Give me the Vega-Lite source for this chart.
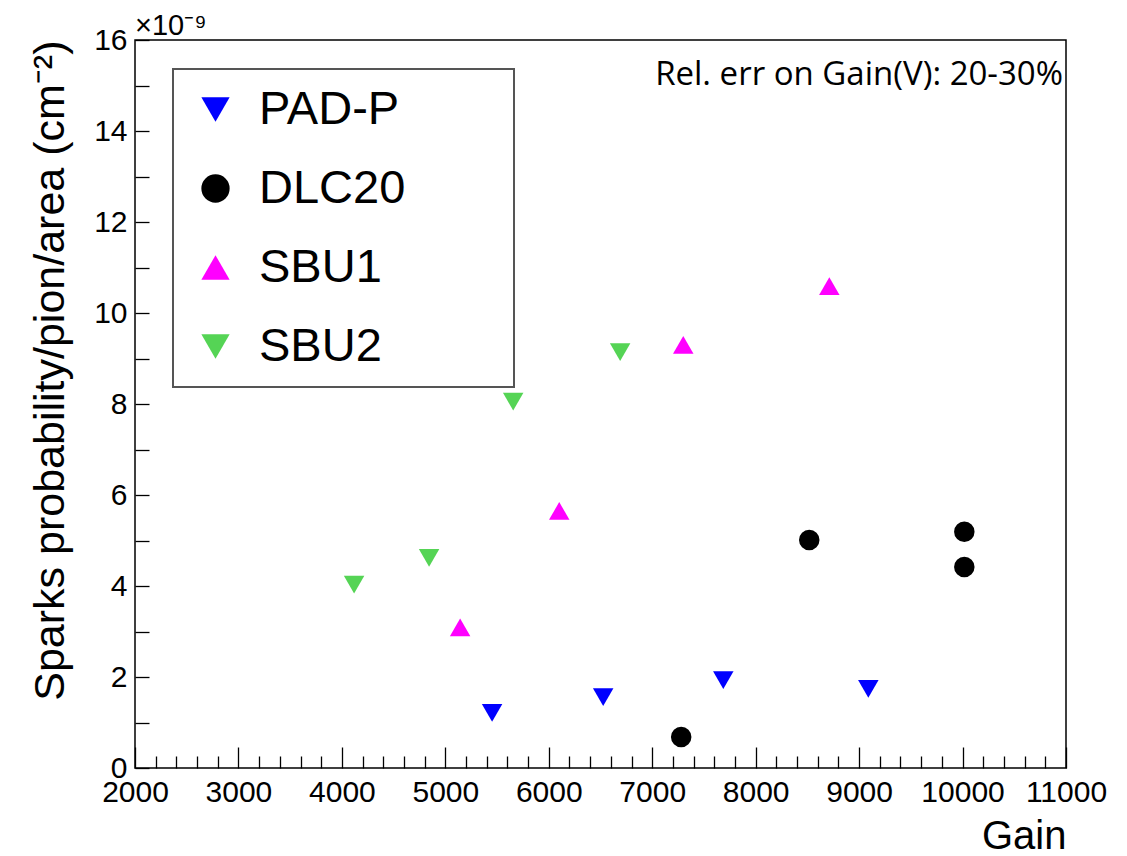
{
  "$schema": "https://vega.github.io/schema/vega-lite/v6.json",
  "width": 931,
  "height": 728,
  "autosize": "none",
  "padding": {"left": 135, "top": 40, "right": 61, "bottom": 88},
  "background": "white",
  "config": {
    "view": {"stroke": "black", "strokeWidth": 1.5},
    "font": "Liberation Sans",
    "legend": {"strokeWidth": 2},
    "axis": {"labelColor": "black", "titleColor": "black", "tickColor": "black", "tickWidth": 1.3, "domain": false, "grid": false, "labelFont": "Liberation Sans", "titleFont": "Liberation Sans", "titleFontWeight": "normal", "labelOverlap": false, "labelFlush": false, "tickCount": 200},
    "axisY": {"tickCount": 200}
  },
  "layer": [
    {
      "data": {
        "values": [
          {"series": "PAD-P", "gain": 5452, "sparks": 1.21},
          {"series": "PAD-P", "gain": 6526, "sparks": 1.56},
          {"series": "PAD-P", "gain": 7687, "sparks": 1.93},
          {"series": "PAD-P", "gain": 9089, "sparks": 1.74},
          {"series": "DLC20", "gain": 7280, "sparks": 0.68},
          {"series": "DLC20", "gain": 8518, "sparks": 5.01},
          {"series": "DLC20", "gain": 10017, "sparks": 5.19},
          {"series": "DLC20", "gain": 10017, "sparks": 4.42},
          {"series": "SBU1", "gain": 5143, "sparks": 3.09},
          {"series": "SBU1", "gain": 6101, "sparks": 5.65},
          {"series": "SBU1", "gain": 7300, "sparks": 9.30},
          {"series": "SBU1", "gain": 8712, "sparks": 10.59},
          {"series": "SBU2", "gain": 4118, "sparks": 4.03},
          {"series": "SBU2", "gain": 4843, "sparks": 4.62},
          {"series": "SBU2", "gain": 5656, "sparks": 8.05},
          {"series": "SBU2", "gain": 6690, "sparks": 9.14}
        ]
      },
      "mark": {"type": "point", "filled": true, "opacity": 1, "strokeWidth": 0, "size": 420},
      "encoding": {
        "x": {
          "field": "gain", "type": "quantitative",
          "scale": {"domain": [2000, 11000], "nice": false, "zero": false},
          "axis": {
            "title": "Gain",
            "titleFontSize": 40,
            "titleAnchor": "end",
            "titlePadding": 0,
            "tickCount": 200,
            "values": [2000,2200,2400,2600,2800,3000,3200,3400,3600,3800,4000,4200,4400,4600,4800,5000,5200,5400,5600,5800,6000,6200,6400,6600,6800,7000,7200,7400,7600,7800,8000,8200,8400,8600,8800,9000,9200,9400,9600,9800,10000,10200,10400,10600,10800,11000],
            "format": "d",
            "labelExpr": "datum.value % 1000 === 0 ? datum.label : ''",
            "labelFontSize": 30,
            "labelPadding": 30,
            "tickSize": {"condition": {"test": "datum.value % 1000 === 0", "value": -21}, "value": -12}
          }
        },
        "y": {
          "field": "sparks", "type": "quantitative",
          "scale": {"domain": [0, 16], "nice": false, "zero": false},
          "axis": {
            "title": "Sparks probability/pion/area (cm⁻²)",
            "titleFontSize": 43,
            "titleAnchor": "end",
            "titlePadding": 21,
            "tickCount": 200,
            "values": [0,0.5,1,1.5,2,2.5,3,3.5,4,4.5,5,5.5,6,6.5,7,7.5,8,8.5,9,9.5,10,10.5,11,11.5,12,12.5,13,13.5,14,14.5,15,15.5,16],
            "format": "d",
            "labelExpr": "datum.value % 2 === 0 ? datum.label : ''",
            "labelFontSize": 30,
            "labelPadding": 22,
            "tickSize": -14
          }
        },
        "color": {
          "field": "series", "type": "nominal",
          "scale": {"domain": ["PAD-P", "DLC20", "SBU1", "SBU2"], "range": ["#0000ff", "#000000", "#ff00ff", "#55d455"]},
          "legend": {
            "title": null,
            "orient": "none",
            "legendX": 38,
            "legendY": 29,
            "fillColor": "white",
            "strokeColor": "#555555",
            "padding": 17,
            "symbolOffset": 2,
            "symbolSize": 800,
            "symbolStrokeWidth": 0,
            "labelFont": "Liberation Sans",
            "labelFontSize": 47,
            "labelColor": "black",
            "labelOffset": 20,
            "labelLimit": 500,
            "rowPadding": 31,
            "labelExpr": "datum.label + '\u00a0\u00a0\u00a0\u00a0\u00a0\u00a0\u00a0\u200b'"
          }
        },
        "shape": {
          "field": "series", "type": "nominal",
          "scale": {"domain": ["PAD-P", "DLC20", "SBU1", "SBU2"], "range": ["triangle-down", "circle", "triangle-up", "triangle-down"]}
        }
      }
    },
    {
      "data": {"values": [{"note": "×10⁻⁹"}]},
      "mark": {"type": "text", "align": "left", "baseline": "alphabetic", "dy": -5, "fontSize": 29, "font": "Liberation Sans", "color": "black"},
      "encoding": {
        "x": {"datum": 2000, "type": "quantitative"},
        "y": {"datum": 16, "type": "quantitative"},
        "text": {"field": "note"}
      }
    },
    {
      "data": {"values": [{"note": "Rel. err on Gain(V): 20-30%"}]},
      "mark": {"type": "text", "align": "right", "baseline": "alphabetic", "dx": -3, "dy": 45, "fontSize": 33, "font": "Open Sans", "color": "black"},
      "encoding": {
        "x": {"datum": 11000, "type": "quantitative"},
        "y": {"datum": 16, "type": "quantitative"},
        "text": {"field": "note"}
      }
    }
  ]
}
